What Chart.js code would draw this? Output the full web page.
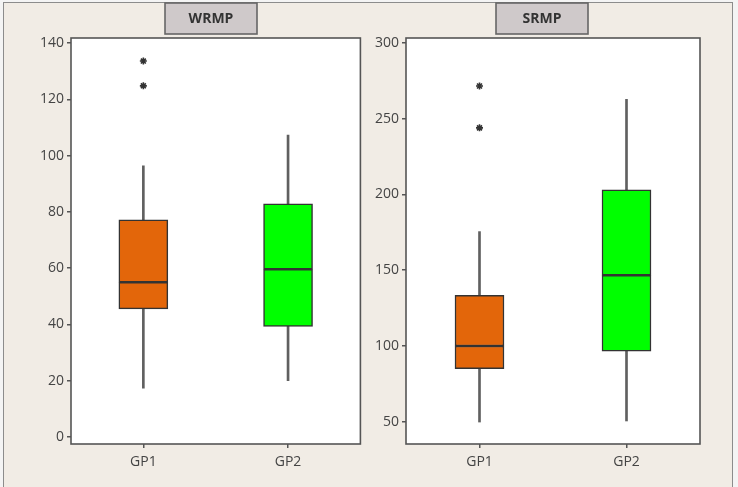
<!DOCTYPE html>
<html>
<head>
<meta charset="utf-8">
<script src="https://cdn.jsdelivr.net/npm/chart.js@4"></script>
<style>
  html, body { margin:0; padding:0; background:#f4f4f4; width:738px; height:487px; overflow:hidden; }
  #frame { position:absolute; left:3px; top:2px; width:730px; height:500px; border:1.5px solid #8c8c8c; background:#f1ece5; box-sizing:border-box; }
  canvas { position:absolute; top:0; }
  #c1 { left:0; }
  #c2 { left:366px; }
</style>
</head>
<body>
<div id="frame"></div>
<canvas id="c1" width="366" height="487"></canvas>
<canvas id="c2" width="372" height="487"></canvas>
<script>
// ---- data ----
const categories = ['GP1', 'GP2'];

const wrmpMin = [17.3, 20.0];
const wrmpQ1 = [45.5, 39.3];
const wrmpMedian = [55.0, 59.6];
const wrmpQ3 = [77.2, 82.9];
const wrmpMax = [96.4, 107.3];
const wrmpOutliersGP1 = [133.6, 124.8];
const wrmpTicks = [0, 20, 40, 60, 80, 100, 120, 140];

const srmpMin = [49.8, 50.5];
const srmpQ1 = [85.0, 96.5];
const srmpMedian = [100.0, 146.7];
const srmpQ3 = [133.5, 203.0];
const srmpMax = [175.5, 262.8];
const srmpOutliersGP1 = [271.6, 244.0];
const srmpTicks = [50, 100, 150, 200, 250, 300];

const boxColors = ['#e3660a', '#00ff00'];
const FONT = '"Open Sans", "DejaVu Sans", sans-serif';

const panelPlugin = {
  id: 'panel',
  beforeDatasetsDraw(chart) {
    const a = chart.chartArea, ctx = chart.ctx;
    ctx.save();
    ctx.fillStyle = '#ffffff';
    ctx.fillRect(a.left, a.top, a.right - a.left, a.bottom - a.top);
    ctx.restore();
  },
  afterDatasetsDraw(chart) {
    const a = chart.chartArea, ctx = chart.ctx;
    ctx.save();
    ctx.strokeStyle = '#555';
    ctx.lineWidth = 1.6;
    ctx.strokeRect(a.left, a.top, a.right - a.left, a.bottom - a.top);
    ctx.restore();
  },
  afterDraw(chart, args, opts) {
    const ctx = chart.ctx;
    ctx.save();
    ctx.fillStyle = '#cfc9ca';
    ctx.strokeStyle = '#666';
    ctx.lineWidth = 1.6;
    ctx.fillRect(opts.x, opts.y, opts.w, opts.h);
    ctx.strokeRect(opts.x, opts.y, opts.w, opts.h);
    ctx.fillStyle = '#333';
    ctx.font = 'bold 14px ' + FONT;
    ctx.textAlign = 'center';
    ctx.textBaseline = 'middle';
    ctx.fillText(opts.text, opts.x + opts.w / 2, opts.y + opts.h / 2 + 1);
    ctx.restore();
  }
};

function pairs(a, b) { return a.map((v, i) => [v, b[i]]); }

function boxChart(canvasId, mn, q1, med, q3, mx, outliers, ticks, yMin, yMax, yWidth, pad, tbox) {
  return new Chart(document.getElementById(canvasId), {
    type: 'bar',
    data: {
      labels: categories,
      datasets: [
        { data: pairs(mn, q1), backgroundColor: '#606060', borderWidth: 0, barThickness: 2, grouped: false, order: 3 },
        { data: pairs(q3, mx), backgroundColor: '#606060', borderWidth: 0, barThickness: 2, grouped: false, order: 3 },
        { data: pairs(q1, med), backgroundColor: boxColors, borderColor: '#333', borderWidth: 1.5, borderSkipped: false, barThickness: 49, grouped: false, order: 2 },
        { data: pairs(med, q3), backgroundColor: boxColors, borderColor: '#333', borderWidth: 1.5, borderSkipped: false, barThickness: 49, grouped: false, order: 2 },
        { type: 'line', showLine: false, data: outliers.map(v => ({ x: 'GP1', y: v })),
          pointStyle: 'star', pointRadius: 3.5, borderColor: '#333', backgroundColor: '#333', pointBorderWidth: 1.6, order: 1 }
      ]
    },
    options: {
      responsive: false,
      animation: false,
      layout: { padding: pad },
      plugins: {
        legend: { display: false },
        tooltip: { enabled: false },
        panel: tbox
      },
      scales: {
        x: {
          offset: true,
          grid: { display: true, drawOnChartArea: false, drawTicks: true, tickLength: 4, color: '#555', lineWidth: 1.5, offset: false },
          border: { display: false },
          ticks: { color: '#444', font: { family: FONT, size: 14 }, padding: 6 },
          afterFit(s) { s.height = 43; }
        },
        y: {
          min: yMin, max: yMax,
          grid: { display: true, drawOnChartArea: false, drawTicks: true, tickLength: 4, color: '#555', lineWidth: 1.5 },
          border: { display: false },
          ticks: { color: '#444', font: { family: FONT, size: 14 }, padding: 3 },
          afterBuildTicks(s) { s.ticks = ticks.map(v => ({ value: v })); },
          afterFit(s) { s.width = yWidth; }
        }
      }
    },
    plugins: [panelPlugin]
  });
}

boxChart('c1', wrmpMin, wrmpQ1, wrmpMedian, wrmpQ3, wrmpMax, wrmpOutliersGP1, wrmpTicks,
  -2.5, 141.8, 71, { left: 0, right: 3, top: 38, bottom: 0 },
  { text: 'WRMP', x: 165, y: 3, w: 92, h: 31 });

boxChart('c2', srmpMin, srmpQ1, srmpMedian, srmpQ3, srmpMax, srmpOutliersGP1, srmpTicks,
  35.3, 303.3, 40, { left: 0, right: 38, top: 38, bottom: 0 },
  { text: 'SRMP', x: 130, y: 3, w: 92, h: 31 });
</script>
</body>
</html>
